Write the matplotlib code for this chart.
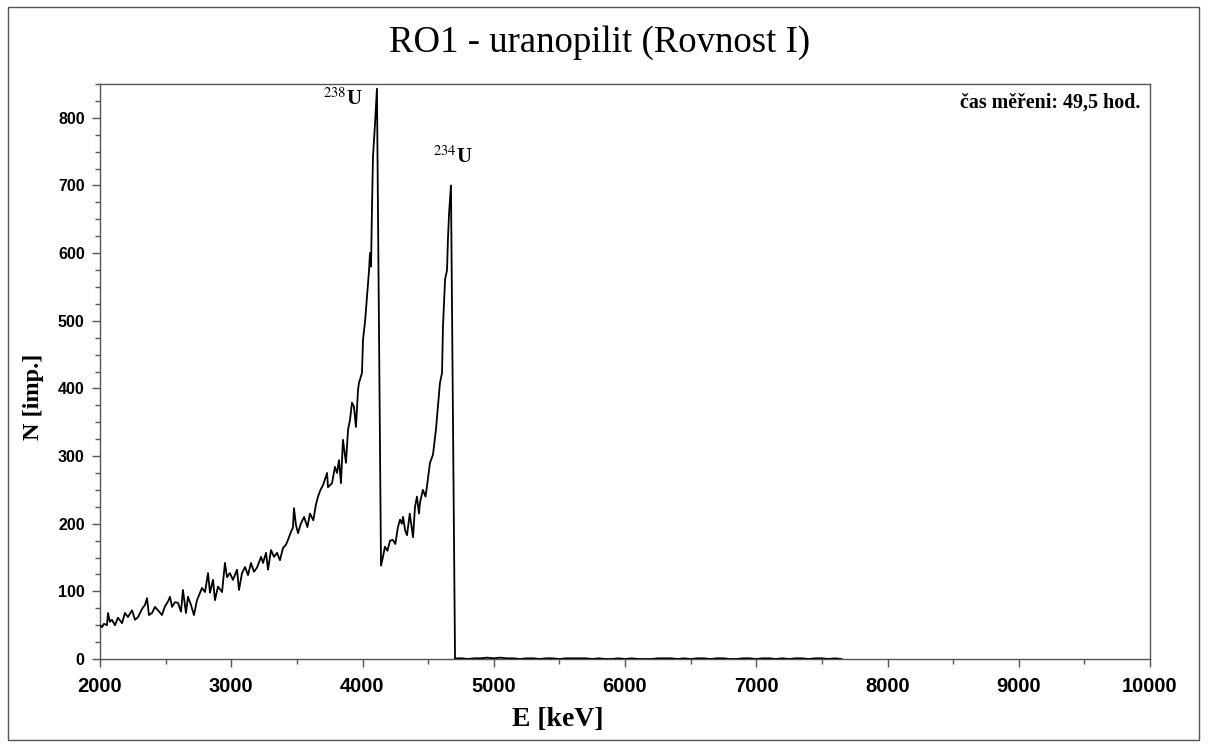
import matplotlib
matplotlib.use("Agg")
import matplotlib.pyplot as plt
from matplotlib.patches import Rectangle
from matplotlib.ticker import MultipleLocator

plt.rcParams['mathtext.fontset'] = 'stix'

# ---- data ----
energy = [2000, 2015, 2030, 2053, 2061, 2075, 2091, 2114, 2137, 2168, 2190, 2213, 2244, 2267, 2290,
          2320, 2343, 2358, 2373, 2396, 2419, 2442, 2472, 2495, 2518, 2533, 2549, 2571, 2594, 2617,
          2632, 2655, 2670, 2693, 2716, 2739, 2762, 2777, 2800, 2823, 2838, 2861, 2876, 2899, 2930,
          2952, 2968, 2990, 3013, 3044, 3059, 3082, 3105, 3128, 3150, 3173, 3196, 3227, 3242, 3265,
          3280, 3303, 3326, 3349, 3371, 3394, 3417, 3432, 3455, 3470, 3478, 3493, 3509, 3530, 3555,
          3580, 3600, 3625, 3645, 3661, 3680, 3699, 3730, 3737, 3768, 3790, 3806, 3821, 3836, 3851,
          3874, 3890, 3905, 3920, 3935, 3950, 3966, 3973, 3996, 4004, 4020, 4034, 4050, 4057, 4065,
          4072, 4080, 4095, 4110, 4141, 4155, 4171, 4190, 4210, 4232, 4250, 4270, 4286, 4300, 4309,
          4325, 4339, 4360, 4385, 4400, 4415, 4430, 4438, 4460, 4480, 4491, 4514, 4537, 4560, 4590,
          4606, 4613, 4629, 4644, 4651, 4660, 4674, 4705]
counts = [50, 47, 52, 50, 68, 55, 58, 50, 61, 53, 68, 62, 72, 58, 62,
          74, 80, 90, 65, 68, 77, 72, 65, 78, 85, 92, 77, 84, 83, 70,
          102, 68, 92, 80, 65, 87, 98, 105, 99, 127, 98, 117, 87, 107, 99,
          142, 121, 127, 117, 132, 102, 127, 136, 124, 142, 129, 135, 151, 142, 157,
          132, 161, 151, 157, 146, 164, 169, 176, 188, 194, 223, 198, 186, 200, 210,
          195, 215, 205, 228, 240, 250, 257, 275, 254, 260, 284, 275, 294, 260, 324,
          290, 339, 354, 379, 373, 343, 398, 408, 423, 472, 500, 535, 575, 600, 580,
          664, 743, 790, 843, 138, 150, 166, 160, 175, 176, 170, 195, 206, 200, 210,
          190, 183, 215, 180, 225, 240, 215, 231, 250, 240, 255, 290, 302, 340, 408,
          423, 491, 561, 575, 620, 660, 700, 0]

energy_tail = [4720, 4760, 4800, 4850, 4900, 4950, 5000, 5050, 5100, 5150, 5200, 5250, 5300, 5350,
               5400, 5450, 5500, 5550, 5600, 5650, 5700, 5750, 5800, 5850, 5900, 5950, 6000, 6050,
               6100, 6150, 6200, 6250, 6300, 6350, 6400, 6450, 6500, 6550, 6600, 6650, 6700, 6750,
               6800, 6850, 6900, 6950, 7000, 7050, 7100, 7150, 7200, 7250, 7300, 7350, 7400, 7450,
               7500, 7550, 7600, 7650]
counts_tail = [1, 1, 0, 1, 1, 2, 1, 2, 1, 1, 0, 1, 1, 0,
               1, 1, 0, 1, 1, 1, 1, 0, 1, 0, 0, 1, 0, 1,
               0, 0, 0, 1, 1, 1, 0, 1, 0, 1, 1, 0, 1, 1,
               0, 0, 1, 1, 0, 1, 1, 0, 1, 0, 1, 1, 0, 1,
               1, 0, 1, 0]

title = "RO1 - uranopilit (Rovnost I)"
xlabel = "E [keV]"
ylabel = "N [imp.]"
note = "čas měřeni: 49,5 hod."
peak_labels = [r"$^{238}$U", r"$^{234}$U"]
peak_label_pos = [(3699, 827), (4537, 742)]

# ---- figure ----
W, H = 1208, 745
fig = plt.figure(figsize=(W / 100, H / 100), dpi=100)
ax = fig.add_axes([100 / W, 1 - 659 / H, (1150 - 100) / W, (659 - 84) / H])

ax.plot(energy + energy_tail, counts + counts_tail, color='black', lw=1.3, zorder=3)

ax.set_xlim(2000, 10000)
ax.set_ylim(0, 850)
ax.xaxis.set_major_locator(MultipleLocator(1000))
ax.xaxis.set_minor_locator(MultipleLocator(500))
ax.yaxis.set_major_locator(MultipleLocator(100))
ax.yaxis.set_minor_locator(MultipleLocator(25))
ax.tick_params(axis='both', which='major', direction='out', length=6, width=1, color='#555555')
ax.tick_params(axis='both', which='minor', direction='out', length=3.5, width=1, color='#555555')
ax.tick_params(axis='y', which='major', labelsize=11.5, pad=5)
ax.tick_params(axis='x', which='major', labelsize=14.5, pad=7)
ax.tick_params(axis='y', which='both', right=False)
ax.tick_params(axis='x', which='both', top=False)
for lab in ax.get_xticklabels() + ax.get_yticklabels():
    lab.set_fontfamily('Liberation Sans')
    lab.set_fontweight('bold')
for sp in ax.spines.values():
    sp.set_color('#555555')
    sp.set_linewidth(1)

fig.text(558 / W, 1 - 720 / H, xlabel, ha='center', va='center',
         fontfamily='Liberation Serif', fontweight='bold', fontsize=20)
fig.text(33 / W, 1 - 397 / H, ylabel, ha='center', va='center', rotation=90,
         fontfamily='Liberation Serif', fontweight='bold', fontsize=17.5)

fig.text(600 / W, 1 - 43 / H, title, ha='center', va='center',
         fontfamily='Liberation Serif', fontsize=26.5)
ax.text((1140 - 100) / 1050, 1 - (103 - 84) / 575, note, transform=ax.transAxes,
        ha='right', va='center', fontfamily='Liberation Serif', fontweight='bold', fontsize=14.4)

for lab, (px, py) in zip(peak_labels, peak_label_pos):
    ax.text(px, py, lab, ha='left', va='center', fontfamily='Liberation Serif',
            fontweight='bold', fontsize=15)

fig.patches.append(Rectangle((8 / W, 5 / H), (1199 - 8) / W, (739 - 6) / H,
                             transform=fig.transFigure, fill=False, ec='#555555', lw=1))

fig.savefig("out.png", dpi=100)
